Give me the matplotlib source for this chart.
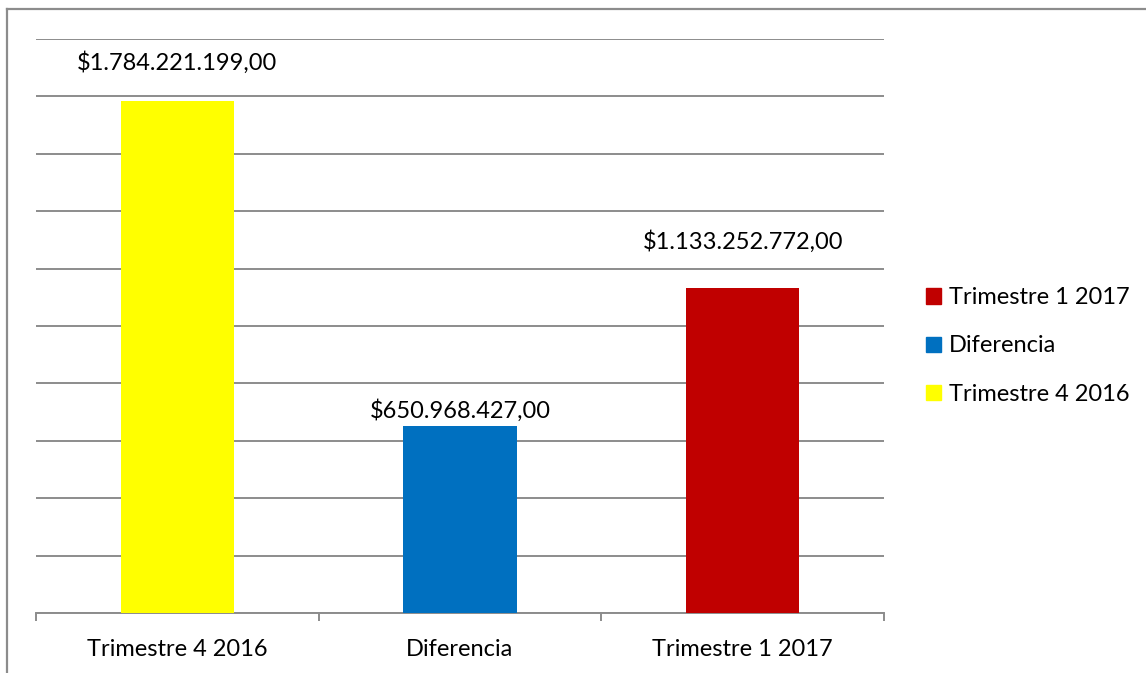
import matplotlib.pyplot as plt
from matplotlib.lines import Line2D
from matplotlib.patches import Patch

plt.rcParams['font.family'] = ['Lato', 'DejaVu Sans']

# -------------------------------------------------------------------------------------------------- #

categories = ['Trimestre 4 2016', 'Diferencia', 'Trimestre 1 2017']
values = [1784221199.00, 650968427.00, 1133252772.00]
bar_colors = ['#FFFF00', '#0070C0', '#C00000']
value_labels = ['$1.784.221.199,00', '$650.968.427,00', '$1.133.252.772,00']
label_offsets = [38, 16, 46]  # pixels above bar top (Excel placed these by hand)

# -------------------------------------------------------------------------------------------------- #

W, H = 1146, 673
fig = plt.figure(figsize=(W / 100, H / 100), dpi=100)
ax = fig.add_axes([36 / W, 1 - 613 / H, (884 - 36) / W, (613 - 39) / H])

x = range(len(categories))
ax.bar(x, values, width=0.4, color=bar_colors, zorder=3)

ax.set_xlim(-0.5, 2.5)
ax.set_ylim(0, 2e9)
ax.set_yticks([i * 2e8 for i in range(11)])
ax.yaxis.grid(True, color='#8c8c8c', linewidth=1.4, zorder=0)
ax.tick_params(axis='y', length=0, labelleft=False)

# category boundary ticks below the axis
ax.set_xticks([-0.5, 0.5, 1.5, 2.5])
ax.set_xticklabels([])
ax.tick_params(axis='x', direction='out', length=6, width=1.4, color='#8c8c8c')
ax.set_xticks(list(x), minor=True)
ax.set_xticklabels(categories, minor=True, fontsize=17)
ax.tick_params(axis='x', which='minor', length=0, pad=19)

for side in ['top', 'right', 'left']:
    ax.spines[side].set_visible(False)
ax.spines['bottom'].set_color('#8c8c8c')
ax.spines['bottom'].set_linewidth(1.4)

for xi, v, lab, off in zip(x, values, value_labels, label_offsets):
    ax.annotate(lab, (xi, v), xytext=(0, off * 0.72), textcoords='offset points',
                ha='center', va='center', fontsize=17)

# legend in reverse order, like Excel
handles = [Patch(color=c) for c in bar_colors][::-1]
leg = fig.legend(handles, categories[::-1], loc='center left',
                 bbox_to_anchor=(905 / W, 1 - 346 / H), frameon=False,
                 fontsize=17, handlelength=0.62, handleheight=0.62,
                 handletextpad=0.35, labelspacing=1.15)

# outer chart border (left and top visible)
fig.add_artist(Line2D([7 / W, 7 / W], [0, 1 - 9 / H], color='#8c8c8c', linewidth=1.6))
fig.add_artist(Line2D([7 / W, 1], [1 - 9 / H, 1 - 9 / H], color='#8c8c8c', linewidth=1.6))

fig.savefig('out.png', dpi=100)
